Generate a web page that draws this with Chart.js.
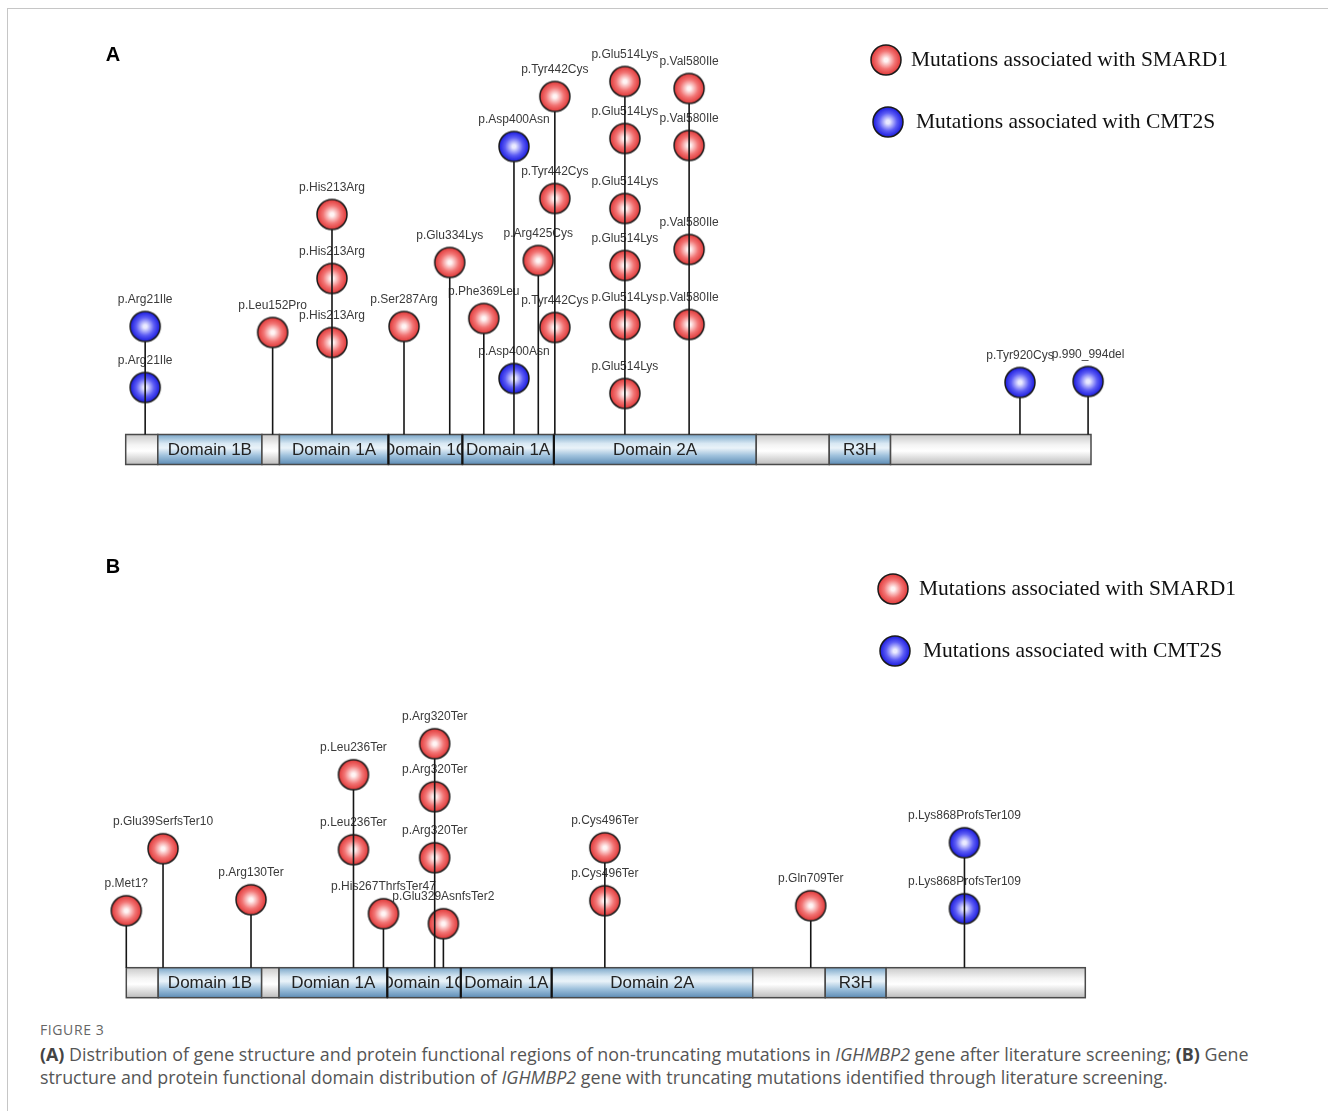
<!DOCTYPE html>
<html>
<head>
<meta charset="utf-8">
<script src="https://cdn.jsdelivr.net/npm/chart.js@4.4.1/dist/chart.umd.min.js"></script>
<style>
  html, body { margin: 0; padding: 0; background: #fff; }
  body { width: 1328px; height: 1111px; position: relative; overflow: hidden; }
  .frame { position: absolute; left: 7px; top: 8px; width: 1340px; height: 1120px;
           border-top: 1.5px solid #c6c6c6; border-left: 1.5px solid #c6c6c6; }
  #panelA { position: absolute; left: 0; top: 0; }
  #panelB { position: absolute; left: 0; top: 500px; }
  .cap { position: absolute; left: 40px; white-space: nowrap; color: #555;
         font-family: "Open Sans", Lato, sans-serif; }
  .fig { top: 1020px; font-size: 14px; letter-spacing: 0.6px; color: #666; }
  .l1 { top: 1042px; font-size: 17.85px; }
  .l2 { top: 1065px; font-size: 17.85px; }
  .cap b { font-weight: 700; color: #444; }
</style>
</head>
<body>
<div class="frame"></div>
<canvas id="panelA" width="1328" height="500"></canvas>
<canvas id="panelB" width="1328" height="520"></canvas>
<div class="cap fig">FIGURE 3</div>
<div class="cap l1"><b>(A)</b> Distribution of gene structure and protein functional regions of non-truncating mutations in <i>IGHMBP2</i> gene after literature screening; <b>(B)</b> Gene</div>
<div class="cap l2">structure and protein functional domain distribution of <i>IGHMBP2</i> gene with truncating mutations identified through literature screening.</div>

<script>
// ---- IGHMBP2 protein architecture (amino-acid coordinates) ----
const PROTEIN_LENGTH = 993;
const domainStart = [1, 34, 141, 159, 271, 347, 441, 649, 724, 787];
const domainEnd   = [34, 141, 159, 271, 347, 441, 649, 724, 787, 993];
const domainIsFunctional = [false, true, false, true, true, true, true, false, true, false];
const domainNamesA = ['', 'Domain 1B', '', 'Domain 1A', 'Domain 1C', 'Domain 1A', 'Domain 2A', '', 'R3H', ''];
const domainNamesB = ['', 'Domain 1B', '', 'Domian 1A', 'Domain 1C', 'Domain 1A', 'Domain 2A', '', 'R3H', ''];

// ---- Panel A: non-truncating variants ----
const labelsA = [
  'p.Arg21Ile', 'p.Arg21Ile', 'p.Leu152Pro',
  'p.His213Arg', 'p.His213Arg', 'p.His213Arg',
  'p.Ser287Arg', 'p.Glu334Lys', 'p.Phe369Leu',
  'p.Asp400Asn', 'p.Asp400Asn', 'p.Arg425Cys',
  'p.Tyr442Cys', 'p.Tyr442Cys', 'p.Tyr442Cys',
  'p.Glu514Lys', 'p.Glu514Lys', 'p.Glu514Lys', 'p.Glu514Lys', 'p.Glu514Lys', 'p.Glu514Lys',
  'p.Val580Ile', 'p.Val580Ile', 'p.Val580Ile', 'p.Val580Ile',
  'p.Tyr920Cys', 'p.990_994del'
];
const positionsA = [21, 21, 152, 213, 213, 213, 287, 334, 369, 400, 400, 425,
  442, 442, 442, 514, 514, 514, 514, 514, 514, 580, 580, 580, 580, 920, 990];
const heightsA = [108, 47, 102, 220, 156, 92, 108, 172, 116, 288, 56, 174,
  338, 236, 107, 353, 296, 226, 169, 110, 41, 346, 289, 185, 110, 52, 53];
const diseaseA = ['CMT2S', 'CMT2S', 'SMARD1', 'SMARD1', 'SMARD1', 'SMARD1',
  'SMARD1', 'SMARD1', 'SMARD1', 'CMT2S', 'CMT2S', 'SMARD1',
  'SMARD1', 'SMARD1', 'SMARD1', 'SMARD1', 'SMARD1', 'SMARD1', 'SMARD1', 'SMARD1', 'SMARD1',
  'SMARD1', 'SMARD1', 'SMARD1', 'SMARD1', 'CMT2S', 'CMT2S'];

// ---- Panel B: truncating variants ----
const labelsB = [
  'p.Met1?', 'p.Glu39SerfsTer10', 'p.Arg130Ter',
  'p.Leu236Ter', 'p.Leu236Ter', 'p.His267ThrfsTer47',
  'p.Arg320Ter', 'p.Arg320Ter', 'p.Arg320Ter', 'p.Glu329AsnfsTer2',
  'p.Cys496Ter', 'p.Cys496Ter', 'p.Gln709Ter',
  'p.Lys868ProfsTer109', 'p.Lys868ProfsTer109'
];
const positionsB = [1, 39, 130, 236, 236, 267, 320, 320, 320, 329, 496, 496, 709, 868, 868];
const heightsB = [57, 119, 68, 193, 118, 54, 224, 171, 110, 44, 120, 67, 62, 125, 59];
const diseaseB = ['SMARD1', 'SMARD1', 'SMARD1', 'SMARD1', 'SMARD1', 'SMARD1',
  'SMARD1', 'SMARD1', 'SMARD1', 'SMARD1', 'SMARD1', 'SMARD1', 'SMARD1', 'CMT2S', 'CMT2S'];

const legendText = {
  SMARD1: 'Mutations associated with SMARD1',
  CMT2S: 'Mutations associated with CMT2S'
};
const diseaseOrder = ['SMARD1', 'CMT2S'];

// ---- glossy ball markers ----
const BALL_R = 15;
function makeBall(edge, mid, center) {
  const size = 2 * BALL_R + 4;
  const c = document.createElement('canvas');
  c.width = size; c.height = size;
  const g = c.getContext('2d');
  const m = size / 2;
  const grd = g.createRadialGradient(m, m, 0, m, m, BALL_R);
  grd.addColorStop(0, center);
  grd.addColorStop(0.12, center);
  grd.addColorStop(0.6, mid);
  grd.addColorStop(1, edge);
  g.beginPath();
  g.arc(m, m, BALL_R, 0, Math.PI * 2);
  g.fillStyle = grd;
  g.fill();
  g.lineWidth = 1.5;
  g.strokeStyle = '#1a1a1a';
  g.stroke();
  return c;
}
const balls = {
  SMARD1: makeBall('#e03838', '#f27474', '#fff4f4'),
  CMT2S: makeBall('#1a1ade', '#5c5cf4', '#eaeaff')
};

const BAR_DEPTH = 30;   // height of the protein bar, in y-axis units below 0

function lollipopPlugin(panel) {
  return {
    id: 'lollipop',
    beforeDatasetsDraw(chart) {
      const { ctx, scales: { x, y } } = chart;
      const top = y.getPixelForValue(0);
      const bot = y.getPixelForValue(-BAR_DEPTH);
      const h = bot - top;
      ctx.save();
      for (let i = 0; i < domainStart.length; i++) {
        const x0 = x.getPixelForValue(domainStart[i]);
        const x1 = x.getPixelForValue(domainEnd[i]);
        const grd = ctx.createLinearGradient(0, top, 0, bot);
        if (domainIsFunctional[i]) {
          grd.addColorStop(0, '#7aa6c8');
          grd.addColorStop(0.3, '#d8e8f3');
          grd.addColorStop(0.45, '#eaf3f9');
          grd.addColorStop(0.7, '#a0c2dd');
          grd.addColorStop(1, '#5d8cb5');
        } else {
          grd.addColorStop(0, '#cacaca');
          grd.addColorStop(0.35, '#f4f4f4');
          grd.addColorStop(0.55, '#ffffff');
          grd.addColorStop(1, '#bcbcbc');
        }
        ctx.fillStyle = grd;
        ctx.fillRect(x0, top, x1 - x0, h);
        ctx.lineWidth = 1.5;
        ctx.strokeStyle = '#4a4a4a';
        ctx.strokeRect(x0, top, x1 - x0, h);
        const name = panel.domainNames[i];
        if (name) {
          ctx.save();
          ctx.beginPath();
          ctx.rect(x0 + 1, top, x1 - x0 - 2, h);
          ctx.clip();
          ctx.fillStyle = '#222';
          ctx.font = '17px "Liberation Sans", Arial, sans-serif';
          ctx.textAlign = 'center';
          ctx.textBaseline = 'middle';
          ctx.fillText(name, (x0 + x1) / 2, top + h / 2 + 1);
          ctx.restore();
        }
      }
      // heavy dividers between adjoining functional domains
      ctx.strokeStyle = '#111';
      ctx.lineWidth = 2.2;
      for (let i = 1; i < domainStart.length; i++) {
        if (domainIsFunctional[i] && domainIsFunctional[i - 1]) {
          const xb = x.getPixelForValue(domainStart[i]);
          ctx.beginPath();
          ctx.moveTo(xb, top);
          ctx.lineTo(xb, bot);
          ctx.stroke();
        }
      }
      ctx.restore();
    },
    afterDatasetsDraw(chart) {
      const { ctx, scales: { x, y } } = chart;
      ctx.save();
      // variant labels above each ball
      ctx.font = '12px "Liberation Sans", Arial, sans-serif';
      ctx.fillStyle = '#3a3a3a';
      ctx.textAlign = 'center';
      ctx.textBaseline = 'middle';
      chart.data.datasets.forEach((ds, di) => {
        const meta = chart.getDatasetMeta(di);
        meta.data.forEach((el, j) => {
          ctx.fillText(ds.variantLabels[j], el.x, el.y - 27);
        });
      });
      // stems: from the bar up to the lowest edge of the tallest ball at each residue
      const tallest = {};
      panel.positions.forEach((p, i) => {
        tallest[p] = Math.max(tallest[p] || 0, panel.heights[i]);
      });
      ctx.strokeStyle = '#151515';
      ctx.lineWidth = 1.6;
      Object.keys(tallest).forEach(p => {
        const px = x.getPixelForValue(+p);
        ctx.beginPath();
        ctx.moveTo(px, y.getPixelForValue(0));
        ctx.lineTo(px, y.getPixelForValue(tallest[p]) + BALL_R);
        ctx.stroke();
      });
      // panel letter
      ctx.fillStyle = '#000';
      ctx.font = 'bold 20px "Liberation Sans", Arial, sans-serif';
      ctx.fillText(panel.letter, panel.letterPos[0], panel.letterPos[1]);
      // legend
      ctx.textAlign = 'left';
      ctx.fillStyle = '#111';
      ctx.font = '21.5px "Liberation Serif", "Times New Roman", serif';
      diseaseOrder.forEach((d, k) => {
        const [bx, by, tx] = panel.legend[k];
        const img = balls[d];
        ctx.drawImage(img, bx - img.width / 2, by - img.height / 2);
        ctx.fillText(legendText[d], tx, by);
      });
      ctx.restore();
    }
  };
}

function buildPanel(canvasId, panel) {
  const datasets = diseaseOrder.map(d => {
    const idx = panel.disease.map((v, i) => v === d ? i : -1).filter(i => i >= 0);
    return {
      label: legendText[d],
      data: idx.map(i => ({ x: panel.positions[i], y: panel.heights[i] })),
      variantLabels: idx.map(i => panel.labels[i]),
      pointStyle: balls[d],
      pointRadius: BALL_R,
      showLine: false,
      clip: false
    };
  });
  return new Chart(document.getElementById(canvasId), {
    type: 'scatter',
    data: { datasets },
    options: {
      responsive: false,
      animation: false,
      events: [],
      layout: { padding: panel.padding },
      scales: {
        x: { type: 'linear', min: 0, max: PROTEIN_LENGTH, display: false },
        y: { type: 'linear', min: -BAR_DEPTH, max: 400, display: false }
      },
      plugins: { legend: { display: false }, tooltip: { enabled: false } }
    },
    plugins: [lollipopPlugin(panel)]
  });
}

buildPanel('panelA', {
  labels: labelsA, positions: positionsA, heights: heightsA, disease: diseaseA,
  domainNames: domainNamesA,
  letter: 'A', letterPos: [113, 55],
  legend: [[886, 60, 911], [888, 122, 916]],
  padding: { left: 124.73, right: 237, top: 34.5, bottom: 35.5 }
});

buildPanel('panelB', {
  labels: labelsB, positions: positionsB, heights: heightsB, disease: diseaseB,
  domainNames: domainNamesB,
  letter: 'B', letterPos: [113, 67],
  legend: [[893, 89, 919], [895, 151, 923]],
  padding: { left: 125.33, right: 242.7, top: 67.7, bottom: 22.3 }
});
</script>
</body>
</html>
